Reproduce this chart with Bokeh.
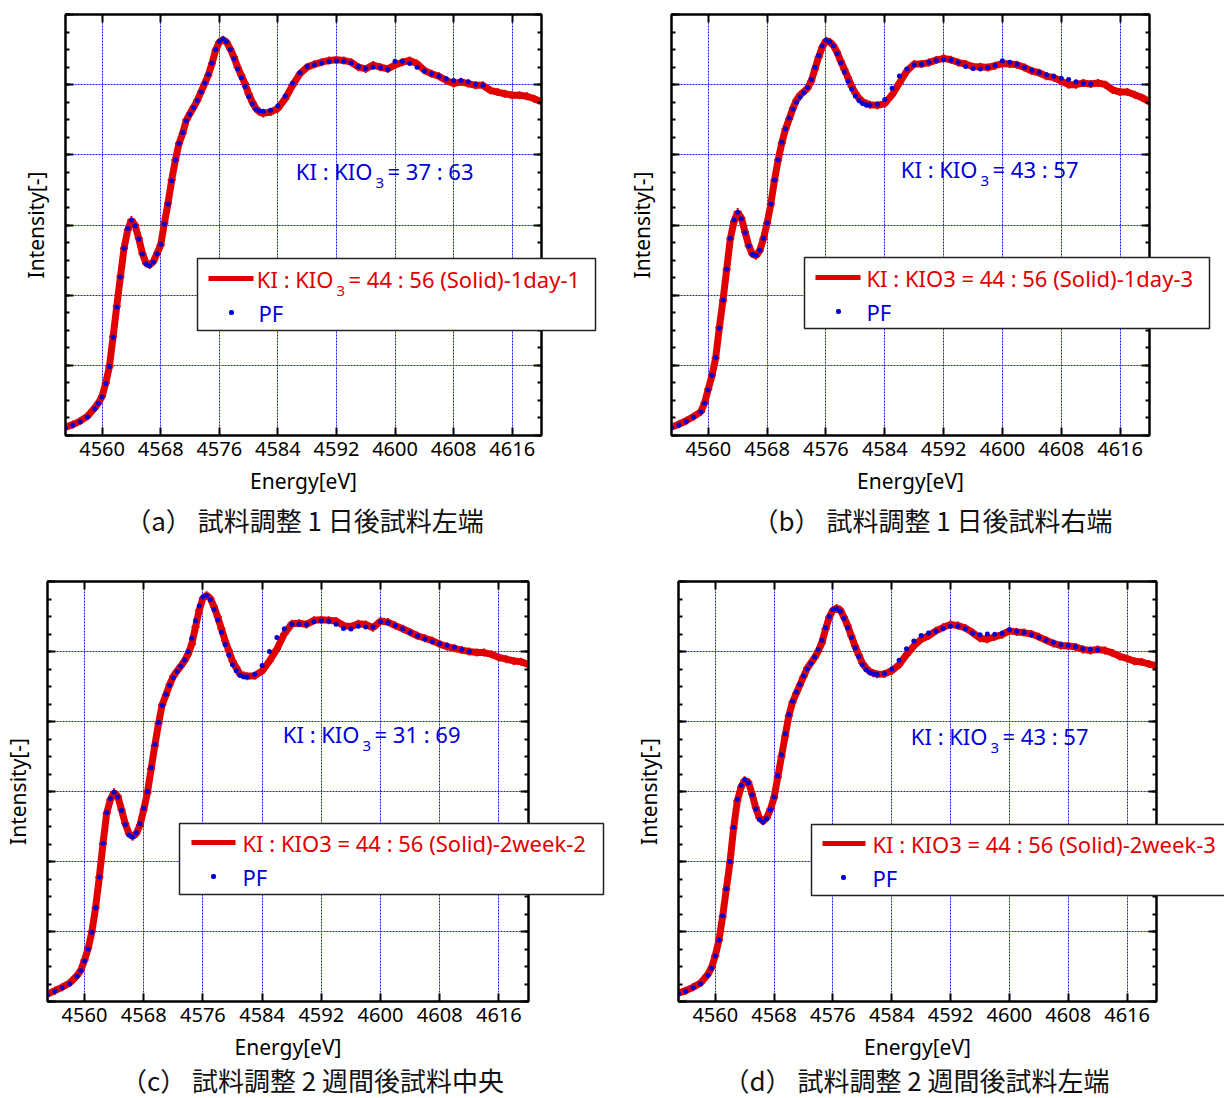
from bokeh.plotting import figure
from bokeh.models import (Range1d, FixedTicker, LinearAxis, Label, BoxAnnotation,
                          CustomJSTickFormatter, GridBox)
from bokeh.layouts import column, row
from bokeh.embed import file_html
from bokeh.resources import INLINE

# ---------------- data ----------------
energy = [4555, 4556, 4557, 4558, 4559,
          4559.5, 4560, 4560.5, 4561, 4561.5, 4562, 4562.5, 4563, 4563.5, 4564,
          4564.5, 4565, 4565.5, 4566, 4566.5, 4567, 4567.5, 4568, 4568.5, 4569,
          4569.5, 4570, 4570.5, 4571, 4571.5, 4572, 4572.5, 4573, 4573.5, 4574,
          4574.5, 4575, 4575.5, 4576, 4576.5, 4577, 4577.5, 4578, 4578.5, 4579,
          4579.5, 4580, 4580.5, 4581, 4581.5, 4582,
          4583, 4584, 4585, 4586, 4587, 4588, 4589, 4590, 4591, 4592,
          4593, 4594, 4595, 4596, 4597, 4598, 4599, 4600, 4601, 4602,
          4603, 4604, 4605, 4606, 4607, 4608, 4609, 4610, 4611, 4612,
          4613, 4614, 4615, 4616, 4617, 4618, 4619, 4620]

red_a = [0.024, 0.031, 0.041, 0.055, 0.079,
         0.093, 0.112, 0.150, 0.197, 0.282, 0.368, 0.453, 0.534, 0.586, 0.614,
         0.600, 0.562, 0.519, 0.491, 0.486, 0.496, 0.519, 0.543, 0.605, 0.662,
         0.728, 0.785, 0.832, 0.861, 0.899, 0.918, 0.936, 0.955, 0.979, 1.003,
         1.027, 1.060, 1.098, 1.121, 1.128, 1.121, 1.102, 1.079, 1.050, 1.027,
         1.003, 0.974, 0.951, 0.932, 0.922, 0.918,
         0.922, 0.932, 0.960, 0.998, 1.031, 1.050, 1.058, 1.064, 1.069, 1.071,
         1.069, 1.064, 1.050, 1.045, 1.056, 1.050, 1.045, 1.056, 1.064, 1.069,
         1.060, 1.041, 1.031, 1.024, 1.012, 1.003, 1.008, 1.003, 0.998, 0.998,
         0.984, 0.979, 0.974, 0.970, 0.970, 0.967, 0.960, 0.951]
pf_a = [0.022, 0.029, 0.039, 0.053, 0.076,
        0.092, 0.110, 0.148, 0.197, 0.280, 0.366, 0.452, 0.534, 0.590, 0.614,
        0.598, 0.560, 0.517, 0.489, 0.484, 0.494, 0.517, 0.545, 0.603, 0.660,
        0.726, 0.785, 0.832, 0.864, 0.897, 0.916, 0.934, 0.955, 0.979, 1.005,
        1.030, 1.062, 1.100, 1.124, 1.131, 1.122, 1.100, 1.074, 1.045, 1.020,
        0.995, 0.966, 0.945, 0.930, 0.925, 0.924,
        0.927, 0.940, 0.968, 1.004, 1.034, 1.052, 1.057, 1.062, 1.066, 1.068,
        1.067, 1.062, 1.052, 1.046, 1.050, 1.048, 1.043, 1.067, 1.067, 1.060,
        1.050, 1.039, 1.031, 1.024, 1.017, 1.012, 1.012, 1.008, 1.001, 0.998]

red_b = [0.024, 0.032, 0.042, 0.054, 0.068,
         0.093, 0.132, 0.171, 0.220, 0.307, 0.385, 0.473, 0.561, 0.610, 0.637,
         0.620, 0.580, 0.541, 0.517, 0.512, 0.527, 0.561, 0.605, 0.659, 0.727,
         0.785, 0.834, 0.873, 0.902, 0.932, 0.956, 0.971, 0.980, 0.990, 1.010,
         1.044, 1.078, 1.107, 1.125, 1.122, 1.112, 1.093, 1.068, 1.044, 1.020,
         0.995, 0.976, 0.961, 0.951, 0.946, 0.943,
         0.941, 0.946, 0.971, 1.005, 1.039, 1.059, 1.059, 1.063, 1.070, 1.075,
         1.071, 1.063, 1.059, 1.051, 1.051, 1.049, 1.054, 1.060, 1.059, 1.057,
         1.049, 1.039, 1.034, 1.024, 1.020, 1.010, 1.000, 1.000, 1.005, 1.002,
         1.005, 1.000, 0.985, 0.979, 0.979, 0.971, 0.963, 0.951]
pf_b = [0.022, 0.030, 0.040, 0.052, 0.068,
        0.092, 0.130, 0.172, 0.222, 0.306, 0.386, 0.474, 0.562, 0.614, 0.636,
        0.618, 0.578, 0.540, 0.516, 0.514, 0.528, 0.562, 0.606, 0.660, 0.728,
        0.786, 0.836, 0.874, 0.905, 0.930, 0.950, 0.965, 0.978, 0.992, 1.015,
        1.050, 1.083, 1.110, 1.127, 1.122, 1.110, 1.088, 1.062, 1.036, 1.010,
        0.988, 0.968, 0.955, 0.946, 0.942, 0.942,
        0.944, 0.958, 0.990, 1.025, 1.045, 1.057, 1.058, 1.064, 1.069, 1.072,
        1.070, 1.063, 1.052, 1.046, 1.045, 1.048, 1.055, 1.068, 1.064, 1.058,
        1.050, 1.041, 1.035, 1.028, 1.024, 1.018, 1.015, 1.008, 1.003, 1.002]

red_c = [0.021, 0.031, 0.041, 0.053, 0.074,
         0.089, 0.118, 0.152, 0.200, 0.268, 0.355, 0.451, 0.538, 0.577, 0.598,
         0.586, 0.548, 0.509, 0.480, 0.471, 0.480, 0.504, 0.548, 0.596, 0.664,
         0.731, 0.794, 0.848, 0.876, 0.905, 0.929, 0.944, 0.958, 0.973, 0.992,
         1.021, 1.070, 1.118, 1.152, 1.161, 1.152, 1.128, 1.099, 1.065, 1.031,
         1.002, 0.973, 0.954, 0.936, 0.932, 0.929,
         0.931, 0.944, 0.973, 1.007, 1.050, 1.079, 1.081, 1.077, 1.089, 1.091,
         1.089, 1.087, 1.074, 1.071, 1.079, 1.077, 1.068, 1.087, 1.084, 1.074,
         1.065, 1.055, 1.045, 1.038, 1.031, 1.021, 1.014, 1.009, 1.004, 1.000,
         0.997, 0.997, 0.992, 0.983, 0.978, 0.973, 0.971, 0.963]
pf_c = [0.019, 0.029, 0.039, 0.051, 0.072,
        0.088, 0.116, 0.150, 0.198, 0.268, 0.356, 0.452, 0.540, 0.580, 0.598,
        0.584, 0.546, 0.506, 0.476, 0.470, 0.482, 0.508, 0.552, 0.600, 0.668,
        0.735, 0.797, 0.846, 0.878, 0.903, 0.925, 0.942, 0.958, 0.976, 1.000,
        1.038, 1.088, 1.130, 1.156, 1.160, 1.148, 1.120, 1.090, 1.055, 1.020,
        0.990, 0.962, 0.945, 0.932, 0.928, 0.928,
        0.935, 0.960, 1.000, 1.040, 1.065, 1.078, 1.078, 1.077, 1.085, 1.088,
        1.087, 1.078, 1.066, 1.064, 1.072, 1.070, 1.070, 1.085, 1.082, 1.074,
        1.065, 1.054, 1.044, 1.036, 1.028, 1.022, 1.018, 1.012, 1.006, 1.000]

red_d = [0.024, 0.031, 0.041, 0.053, 0.078,
         0.097, 0.131, 0.175, 0.243, 0.321, 0.398, 0.496, 0.573, 0.612, 0.632,
         0.627, 0.593, 0.554, 0.525, 0.515, 0.525, 0.549, 0.583, 0.641, 0.700,
         0.758, 0.816, 0.855, 0.880, 0.904, 0.928, 0.952, 0.967, 0.982, 1.001,
         1.025, 1.064, 1.098, 1.118, 1.124, 1.119, 1.098, 1.074, 1.045, 1.016,
         0.991, 0.967, 0.953, 0.943, 0.938, 0.935,
         0.936, 0.945, 0.962, 0.991, 1.016, 1.035, 1.045, 1.059, 1.069, 1.077,
         1.074, 1.067, 1.054, 1.038, 1.035, 1.042, 1.048, 1.059, 1.056, 1.054,
         1.050, 1.042, 1.032, 1.023, 1.017, 1.016, 1.013, 1.006, 1.003, 1.006,
         1.003, 0.996, 0.986, 0.980, 0.972, 0.970, 0.964, 0.959]
pf_d = [0.022, 0.029, 0.039, 0.051, 0.075,
        0.095, 0.130, 0.176, 0.245, 0.322, 0.400, 0.498, 0.578, 0.618, 0.634,
        0.625, 0.590, 0.550, 0.520, 0.512, 0.522, 0.548, 0.585, 0.645, 0.705,
        0.765, 0.820, 0.858, 0.884, 0.906, 0.930, 0.950, 0.966, 0.984, 1.006,
        1.032, 1.068, 1.100, 1.120, 1.122, 1.115, 1.094, 1.068, 1.040, 1.010,
        0.986, 0.962, 0.948, 0.940, 0.936, 0.934,
        0.937, 0.950, 0.975, 1.008, 1.030, 1.046, 1.053, 1.058, 1.066, 1.072,
        1.072, 1.064, 1.052, 1.048, 1.050, 1.049, 1.052, 1.062, 1.058, 1.054,
        1.048, 1.040, 1.032, 1.026, 1.020, 1.018, 1.014, 1.008, 1.006, 1.004]

x_ticks = [4560, 4568, 4576, 4584, 4592, 4600, 4608, 4616]
y_ticks = [0.0, 0.2, 0.4, 0.6, 0.8, 1.0, 1.2]

legend_texts = {"a": ("KI : KIO", "3", "= 44 : 56 (Solid)-1day-1"),
                "b": "KI : KIO3 = 44 : 56 (Solid)-1day-3",
                "c": "KI : KIO3 = 44 : 56 (Solid)-2week-2",
                "d": "KI : KIO3 = 44 : 56 (Solid)-2week-3"}
ratio_tails = {"a": "= 37 : 63", "b": "= 43 : 57", "c": "= 31 : 69", "d": "= 43 : 57"}
captions = {"a": "（a） 試料調整 1 日後試料左端",
            "b": "（b） 試料調整 1 日後試料右端",
            "c": "（c） 試料調整 2 週間後試料中央",
            "d": "（d） 試料調整 2 週間後試料左端"}

# ---------------- layout / style ----------------
FONT = "Noto Sans"
JFONT = "Noto Sans CJK JP"
RED = "#e00000"
BLUE = "#0000d8"
GRIDC = "#1a1aff"

# figure size and borders (frame placement)
GEOM = {
    "a": dict(w=612, h=560, bl=65, br=71, bt=14, bb=124),
    "b": dict(w=612, h=560, bl=59, br=75, bt=12, bb=125),
    "c": dict(w=612, h=538, bl=45, br=84, bt=17, bb=97),
    "d": dict(w=612, h=538, bl=66, br=68, bt=21, bb=96),
}
# page-pixel placement of the hand-drawn legends and captions (overlay)
LEG = {
    "a": dict(box=(197, 595, 258, 330), samp=(208, 253, 278), tx=258, dot=231, rows=(278, 312)),
    "b": dict(box=(804, 1209, 257, 328), samp=(815, 860, 277), tx=866, dot=838, rows=(277, 311)),
    "c": dict(box=(179, 603, 823, 894), samp=(191, 235, 842), tx=242, dot=213, rows=(842, 876)),
    "d": dict(box=(811, 1240, 824, 895), samp=(822, 865, 843), tx=872, dot=843, rows=(843, 877)),
}
CAP = {"a": (304, 519), "b": (932, 519), "c": (312, 1079), "d": (916, 1079)}
# ratio annotation anchor, screen px from frame bottom-left
RATIO = {"a": (307, 265), "b": (306, 267), "c": (312, 268), "d": (309, 266)}

empty_fmt = "return ''"


def style_axis(ax, minor=True):
    ax.axis_line_color = "black"
    ax.axis_line_width = 2
    ax.major_tick_in = 8
    ax.major_tick_out = 0
    ax.major_tick_line_width = 2
    ax.major_tick_line_color = "black"
    if minor:
        ax.minor_tick_in = 4
        ax.minor_tick_out = 0
        ax.minor_tick_line_width = 2
        ax.minor_tick_line_color = "black"
    else:
        ax.minor_tick_line_color = None


def slab(p, x, y, text, color, size, align="left"):
    p.add_layout(Label(x=x, y=y, x_units="screen", y_units="screen", text=text,
                       text_color=color, text_font=FONT, text_font_size=f"{size}px",
                       text_align=align, text_baseline="middle"))


def build(key, red, pf):
    g = GEOM[key]
    p = figure(width=g["w"], height=g["h"], x_range=Range1d(4555, 4620),
               y_range=Range1d(0, 1.2), output_backend="svg", toolbar_location=None,
               min_border_left=g["bl"], min_border_right=g["br"],
               min_border_top=g["bt"], min_border_bottom=g["bb"],
               x_axis_label="Energy[eV]", y_axis_label="Intensity[-]")
    p.outline_line_color = "black"
    p.outline_line_width = 2
    p.border_fill_color = "white"

    y_minor = [round(0.05 * i, 2) for i in range(25)]
    xt = FixedTicker(ticks=x_ticks, minor_ticks=[])
    yt = FixedTicker(ticks=y_ticks, minor_ticks=y_minor)

    xa = p.xaxis[0]
    xa.ticker = xt
    style_axis(xa, minor=False)
    xa.major_label_text_font = FONT
    xa.major_label_text_font_size = "20px"
    xa.major_label_text_color = "black"
    xa.major_label_standoff = 6
    xa.axis_label_text_font = FONT
    xa.axis_label_text_font_size = "21px"
    xa.axis_label_text_font_style = "normal"
    xa.axis_label_text_color = "black"
    xa.axis_label_standoff = 8

    ya = p.yaxis[0]
    ya.ticker = yt
    style_axis(ya)
    ya.formatter = CustomJSTickFormatter(code=empty_fmt)
    ya.major_label_text_font_size = "0px"
    ya.major_label_standoff = 0
    ya.axis_label_text_font = FONT
    ya.axis_label_text_font_size = "21px"
    ya.axis_label_text_font_style = "normal"
    ya.axis_label_text_color = "black"
    ya.axis_label_standoff = 16

    top = LinearAxis(ticker=xt, formatter=CustomJSTickFormatter(code=empty_fmt),
                     major_label_text_font_size="0px", major_label_standoff=0)
    style_axis(top, minor=False)
    p.add_layout(top, "above")
    right = LinearAxis(ticker=yt, formatter=CustomJSTickFormatter(code=empty_fmt),
                       major_label_text_font_size="0px", major_label_standoff=0)
    style_axis(right)
    p.add_layout(right, "right")

    for grid in (p.xgrid[0], p.ygrid[0]):
        grid.grid_line_color = GRIDC
        grid.grid_line_width = 1
        grid.grid_line_dash = "2 1"

    # data
    p.line(energy, red, line_color=RED, line_width=7)
    p.scatter(energy, red, marker="cross", size=8, line_color=RED, line_width=2)
    p.scatter(energy[:len(pf)], pf, marker="circle", size=5, fill_color=BLUE,
              line_color=None)

    # ratio annotation with a real subscript
    ax_, ay_ = RATIO[key]
    slab(p, ax_, ay_, "KI : KIO", BLUE, 22, align="right")
    slab(p, ax_ + 3, ay_ - 12, "3", BLUE, 15)
    slab(p, ax_ + 15, ay_, ratio_tails[key], BLUE, 22)
    return p


pa = build("a", red_a, pf_a)
pb = build("b", red_b, pf_b)
pc = build("c", red_c, pf_c)
pd = build("d", red_d, pf_d)

# transparent overlay (page-pixel coordinates) for legends that extend past the
# frames, and for the captions under each panel
ov = figure(width=1224, height=1098, x_range=Range1d(0, 1224), y_range=Range1d(1098, 0),
            output_backend="svg", toolbar_location=None, min_border=0,
            x_axis_type=None, y_axis_type=None)
ov.outline_line_color = None
ov.background_fill_alpha = 0
ov.border_fill_alpha = 0
ov.xgrid.visible = False
ov.ygrid.visible = False


def olab(x, y, text, color, size, align="left", font=FONT):
    ov.add_layout(Label(x=x, y=y, text=text, text_color=color, text_font=font,
                        text_font_size=f"{size}px", text_align=align,
                        text_baseline="middle"))


for key in ["a", "b", "c", "d"]:
    L = LEG[key]
    l, r, t, b = L["box"]
    ov.add_layout(BoxAnnotation(left=l, right=r, top=t, bottom=b, fill_color="white",
                                fill_alpha=1.0, line_color="#222222", line_width=1.5,
                                line_alpha=1.0))
    sx0, sx1, sy = L["samp"]
    ov.add_layout(BoxAnnotation(left=sx0, right=sx1, top=sy - 2.5, bottom=sy + 2.5,
                                fill_color=RED, fill_alpha=1.0, line_color=None))
    r1, r2 = L["rows"]
    ov.add_layout(BoxAnnotation(left=L["dot"] - 2.5, right=L["dot"] + 2.5,
                                top=r2 - 2.5, bottom=r2 + 2.5, fill_color=BLUE,
                                fill_alpha=1.0, line_color=None, border_radius=2))
    lt = legend_texts[key]
    if isinstance(lt, tuple):
        anchor = 333
        olab(anchor, r1, lt[0], RED, 22, align="right")
        olab(anchor + 3, r1 + 12, lt[1], RED, 15)
        olab(anchor + 15, r1, lt[2], RED, 22)
    else:
        olab(L["tx"], r1, lt, RED, 22)
    olab(L["tx"], r2, "PF", BLUE, 22)
    cx, cy = CAP[key]
    olab(cx, cy, captions[key], "#111111", 26, align="center", font=JFONT)

panels = column(row(pa, pb, spacing=0), row(pc, pd, spacing=0), spacing=0)
layout = GridBox(children=[(panels, 0, 0), (ov, 0, 0)], spacing=0)
open("out.html", "w").write(file_html(layout, INLINE))
